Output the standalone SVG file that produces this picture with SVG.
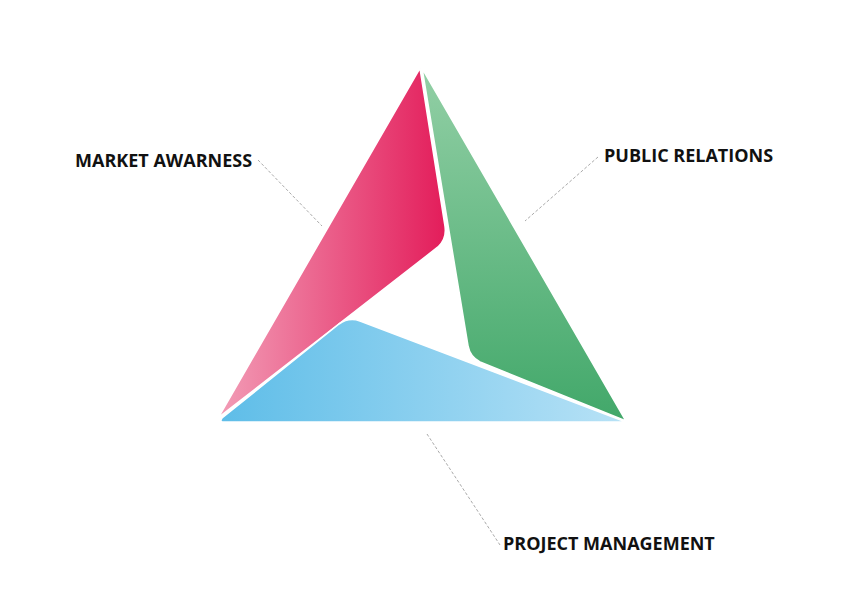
<svg xmlns="http://www.w3.org/2000/svg" width="842" height="595" viewBox="0 0 842 595">
<style>
.lbl{font-family:"Open Sans","Liberation Sans",sans-serif;font-weight:bold;font-size:18px;fill:#111}
.lead{stroke:#aaaaaa;stroke-width:1;stroke-dasharray:3 2;fill:none}
.seg{stroke:#fff;stroke-width:1.6;stroke-linejoin:round}
</style>
<defs>
<linearGradient id="gRed" x1="219" y1="0" x2="447" y2="0" gradientUnits="userSpaceOnUse">
<stop offset="0" stop-color="#f29cb6"/><stop offset="1" stop-color="#e31c5a"/>
</linearGradient>
<linearGradient id="gGreen" x1="0" y1="70" x2="0" y2="420" gradientUnits="userSpaceOnUse">
<stop offset="0" stop-color="#92cfa5"/><stop offset="1" stop-color="#42a86a"/>
</linearGradient>
<linearGradient id="gBlue" x1="220" y1="0" x2="626" y2="0" gradientUnits="userSpaceOnUse">
<stop offset="0" stop-color="#5ebde8"/><stop offset="1" stop-color="#b8e2f6"/>
</linearGradient>
</defs>
<rect width="842" height="595" fill="#fff"/>
<g id="connectors">
<line class="lead" x1="258" y1="160" x2="322" y2="226"/>
<line class="lead" x1="598" y1="157" x2="525" y2="221"/>
<line class="lead" x1="427" y1="434" x2="500" y2="545"/>
</g>
<g id="market-awarness">
<path class="seg" fill="url(#gRed)" d="M 420 68 L 445 226 Q 447 239 438 247 L 218 418 Z"/>
<text class="lbl" x="75" y="167">MARKET AWARNESS</text>
</g>
<g id="public-relations">
<path class="seg" fill="url(#gGreen)" d="M 422 68 L 626 421 L 480 362 Q 470 357 468 346 Z"/>
<text class="lbl" x="604" y="162">PUBLIC RELATIONS</text>
</g>
<g id="project-management">
<path class="seg" fill="url(#gBlue)" d="M 222 418 L 339 324 Q 349 317 360 321 L 626 422 L 224 422 Q 219 422 222 418 Z"/>
<text class="lbl" x="503" y="550">PROJECT MANAGEMENT</text>
</g>
</svg>
